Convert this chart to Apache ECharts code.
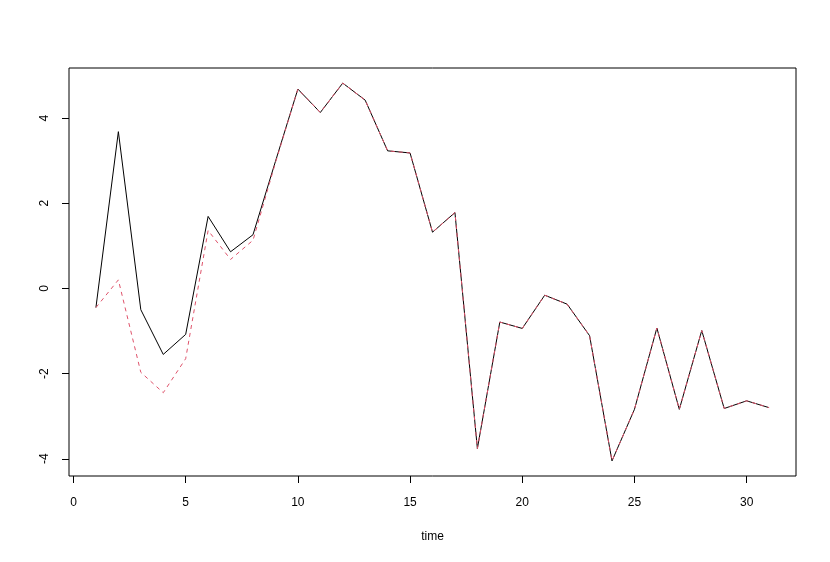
<!DOCTYPE html>
<html>
<head>
<meta charset="utf-8">
<script src="https://cdn.jsdelivr.net/npm/echarts@6/dist/echarts.min.js"></script>
<style>
  html, body { margin: 0; padding: 0; background: #fff; }
  #chart { width: 830px; height: 562px; }
</style>
</head>
<body>
<div id="chart"></div>
<script>
// series values, time = 1..31
const time = [1,2,3,4,5,6,7,8,9,10,11,12,13,14,15,16,17,18,19,20,21,22,23,24,25,26,27,28,29,30,31];
const seriesA = [-0.45, 3.68, -0.50, -1.55, -1.08, 1.69, 0.86, 1.26, 2.98, 4.68,
  4.13, 4.82, 4.42, 3.23, 3.18, 1.32, 1.78, -3.76, -0.79, -0.94,
  -0.16, -0.37, -1.11, -4.05, -2.84, -0.93, -2.84, -0.99, -2.82, -2.64, -2.80];
const seriesB = [-0.45, 0.20, -1.97, -2.45, -1.65, 1.36, 0.68, 1.13, 2.95, 4.68,
  4.13, 4.82, 4.42, 3.23, 3.18, 1.32, 1.78, -3.76, -0.79, -0.94,
  -0.16, -0.37, -1.11, -4.05, -2.84, -0.93, -2.84, -0.99, -2.82, -2.64, -2.80];
const xTicks = [0, 5, 10, 15, 20, 25, 30];
const yTicks = [-4, -2, 0, 2, 4];

const chart = echarts.init(document.getElementById('chart'));

const font = { fontFamily: 'Liberation Sans, Arial, sans-serif', fontSize: 12, color: '#000' };

const option = {
  animation: false,
  backgroundColor: '#fff',
  grid: {
    left: 69, right: 34, top: 68, bottom: 86,
    show: true, borderColor: '#000', borderWidth: 1, backgroundColor: 'transparent'
  },
  xAxis: {
    type: 'value',
    min: -0.2, max: 32.2,
    name: 'time',
    nameLocation: 'middle',
    nameGap: 55,
    nameTextStyle: font,
    axisLine: { show: false, onZero: false },
    splitLine: { show: false },
    axisTick: { show: true, inside: false, length: 7, customValues: xTicks, lineStyle: { color: '#000' } },
    axisLabel: Object.assign({ customValues: xTicks, margin: 21 }, font)
  },
  yAxis: {
    type: 'value',
    min: -4.405, max: 5.175,
    axisLine: { show: false, onZero: false },
    splitLine: { show: false },
    axisTick: { show: true, inside: false, length: 7, customValues: yTicks, lineStyle: { color: '#000' } },
    axisLabel: Object.assign({ customValues: yTicks, rotate: 90, margin: 18 }, font)
  },
  series: [
    {
      type: 'line',
      data: time.map((t, i) => [t, seriesA[i]]),
      showSymbol: false,
      lineStyle: { color: '#000', width: 1 },
      itemStyle: { color: '#000' }
    },
    {
      type: 'line',
      data: time.map((t, i) => [t, seriesB[i]]),
      showSymbol: false,
      lineStyle: { color: '#DF536B', width: 1, type: [4, 4] },
      itemStyle: { color: '#DF536B' }
    }
  ]
};

chart.setOption(option);
</script>
</body>
</html>
